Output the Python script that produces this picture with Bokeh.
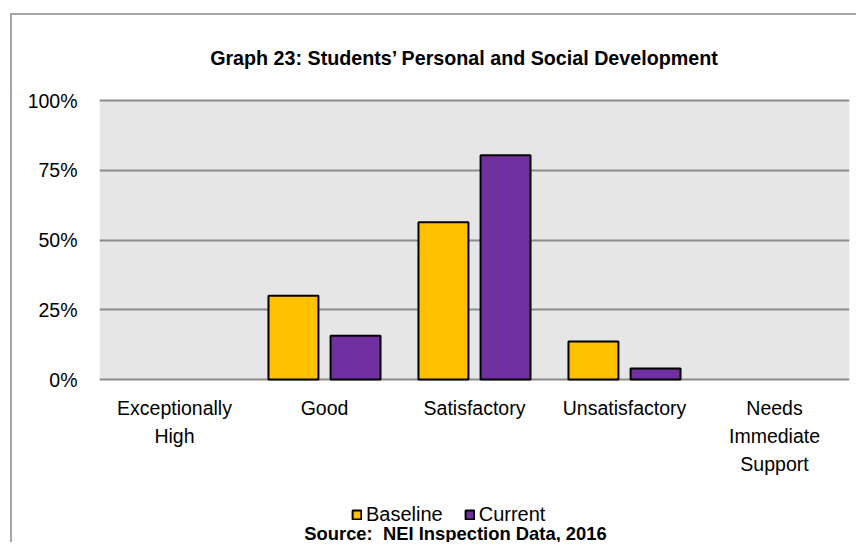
from bokeh.plotting import figure
from bokeh.models import (FactorRange, Range1d, FixedTicker, PrintfTickFormatter,
                          Legend, LegendItem, Label, BoxAnnotation, ColumnDataSource)
from bokeh.core.properties import value
from bokeh.transform import dodge
from bokeh.embed import file_html
from bokeh.resources import INLINE

categories = ["Exceptionally\nHigh", "Good", "Satisfactory", "Unsatisfactory",
              "Needs\nImmediate\nSupport"]
baseline = [0, 30.0, 56.4, 13.6, 0]
current = [0, 15.7, 80.4, 3.9, 0]
y_ticks = [0, 25, 50, 75, 100]

title_text = "Graph 23: Students\u2019 Personal and Social Development"
source_text = "Source:\u00a0 NEI Inspection Data, 2016"

FONT = "Liberation Sans"
OX, OY = 12, 15            # canvas origin inside the page border
W, H = 846, 529
FL, FR = 99 - OX, 849 - OX
Y100, Y0 = 100 - OY, 379 - OY          # canvas pixel rows of 100% and 0%
ppu = (Y0 - Y100) / 100.0              # pixels per percent
y_top = 100 + Y100 / ppu
y_bot = -(H - Y0) / ppu
lab_y = -(396 - OY - Y0) / ppu         # top of the category labels

src = ColumnDataSource(dict(
    cat=categories, baseline=baseline, current=current,
    laby=[lab_y] * len(categories),
    bl_line=["black" if v > 0 else None for v in baseline],
    cu_line=["black" if v > 0 else None for v in current]))

p = figure(width=W, height=H, output_backend="svg", toolbar_location=None,
           x_range=FactorRange(*categories), y_range=Range1d(y_bot, y_top),
           min_border_left=FL, min_border_right=W - FR,
           min_border_top=0, min_border_bottom=0)
p.margin = (13, 0, 0, 10)
p.styles = {"border-left": "2px solid #A6A6A6", "border-top": "2px solid #A6A6A6"}
p.background_fill_color = "white"
p.border_fill_color = "white"
p.outline_line_color = None

# plot area background (0%..100%)
p.add_layout(BoxAnnotation(bottom=0, top=100, fill_color="#E6E6E6", fill_alpha=1,
                           line_color=None, level="image"))

r1 = p.vbar(x=dodge("cat", -0.207, range=p.x_range), top="baseline", width=0.333,
            source=src, fill_color="#FFC000", line_color="bl_line", line_width=2)
r2 = p.vbar(x=dodge("cat", 0.207, range=p.x_range), top="current", width=0.333,
            source=src, fill_color="#7030A0", line_color="cu_line", line_width=2)

# category labels
p.text(x="cat", y="laby", text="cat", source=src, text_font=value(FONT),
       text_font_size="19.5px", text_color="black", text_align="center",
       text_baseline="top", text_line_height=1.28)

p.xaxis.visible = False
p.xgrid.grid_line_color = None

p.yaxis.ticker = FixedTicker(ticks=y_ticks)
p.yaxis.formatter = PrintfTickFormatter(format="%d%%")
p.yaxis.axis_line_color = None
p.yaxis.major_tick_line_color = None
p.yaxis.minor_tick_line_color = None
p.yaxis.major_label_text_font = FONT
p.yaxis.major_label_text_font_size = "19.5px"
p.yaxis.major_label_text_color = "black"
p.yaxis.major_label_standoff = 16
p.ygrid.ticker = FixedTicker(ticks=y_ticks)
p.ygrid.grid_line_color = "#8C8C8C"
p.ygrid.grid_line_width = 2

# title
p.add_layout(Label(x=464 - OX - FL, y=H - (57 - OY), x_units="screen", y_units="screen",
                   text=title_text, text_font=FONT, text_font_style="bold",
                   text_font_size="19.7px", text_align="center",
                   text_baseline="middle", text_color="black"))
# source
p.add_layout(Label(x=455 - OX - FL, y=H - (532.5 - OY), x_units="screen", y_units="screen",
                   text=source_text, text_font=FONT, text_font_style="bold",
                   text_font_size="18.4px", text_align="center",
                   text_baseline="middle", text_color="black"))

legend = Legend(items=[LegendItem(label="Baseline", renderers=[r1], index=1),
                       LegendItem(label="Current", renderers=[r2], index=1)],
                orientation="horizontal",
                location=(351 - OX - FL, H - (516 - OY) - 10),
                glyph_width=11, glyph_height=11, label_standoff=4, spacing=21,
                padding=0, margin=0, border_line_color=None,
                background_fill_alpha=0, label_text_font=FONT,
                label_text_color="black",
                label_text_font_size="20px", label_height=20)
p.add_layout(legend, "center")

open("out.html", "w").write(file_html(p, INLINE))
